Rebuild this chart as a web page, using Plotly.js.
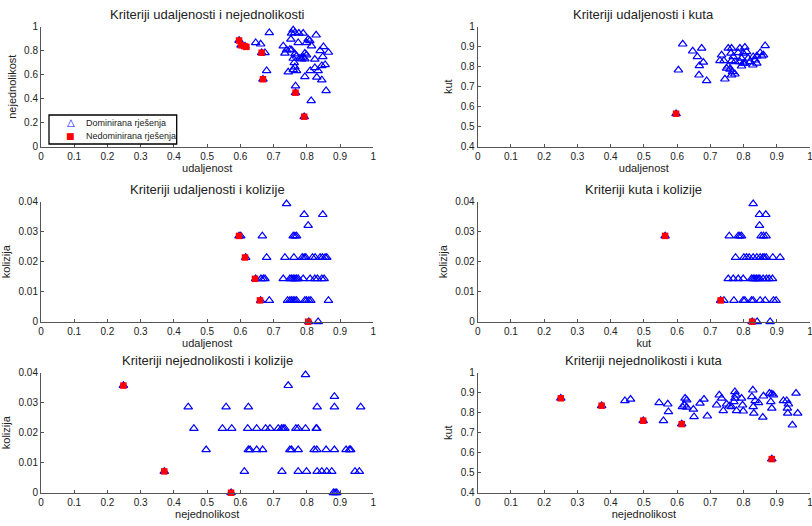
<!DOCTYPE html>
<html>
<head>
<meta charset="utf-8">
<script src="https://cdn.plot.ly/plotly-3.0.1.min.js"></script>
<style>html,body{margin:0;padding:0;background:#fff;}#chart{width:812px;height:526px;}</style>
</head>
<body>
<div id="chart"></div>
<script>
// ---- Labels ----
const subplotTitles = [
  "Kriteriji udaljenosti i nejednolikosti",
  "Kriteriji udaljenosti i kuta",
  "Kriteriji udaljenosti i kolizije",
  "Kriteriji kuta i kolizije",
  "Kriteriji nejednolikosti i kolizije",
  "Kriteriji nejednolikosti i kuta"
];
const xTitles = ["udaljenost", "udaljenost", "udaljenost", "kut", "nejednolikost", "nejednolikost"];
const yTitles = ["nejednolikost", "kut", "kolizija", "kolizija", "kolizija", "kut"];
const legendNames = ["Dominirana rješenja", "Nedominirana rješenja"];
const yRanges = [[0, 1], [0.4, 1], [0, 0.04], [0, 0.04], [0, 0.04], [0.4, 1]];
const yDticks = [0.2, 0.1, 0.01, 0.01, 0.01, 0.1];

// ---- 1: udaljenost vs nejednolikost ----
const udNejDomX = [0.687,0.646,0.661,0.759,0.764,0.754,0.776,0.789,0.828,0.752,0.774,0.804,0.809,0.799,0.814,0.729,0.739,0.734,0.754,0.764,0.769,0.759,0.794,0.799,0.789,0.784,0.794,0.824,0.840,0.850,0.848,0.865,0.855,0.845,0.824,0.834,0.830,0.845,0.810,0.794,0.762,0.764,0.759,0.744,0.769,0.679,0.766,0.858,0.813,0.779,0.749,0.674,0.596,0.602,0.614,0.664,0.668,0.766,0.792];
const udNejDomY = [0.950,0.867,0.855,0.972,0.950,0.945,0.945,0.945,0.930,0.895,0.867,0.895,0.883,0.867,0.840,0.840,0.806,0.778,0.806,0.772,0.755,0.736,0.778,0.764,0.745,0.731,0.731,0.728,0.800,0.833,0.750,0.786,0.683,0.675,0.658,0.633,0.578,0.556,0.633,0.583,0.700,0.664,0.642,0.622,0.633,0.633,0.506,0.467,0.383,0.736,0.811,0.783,0.885,0.845,0.838,0.783,0.562,0.450,0.250];
const udNejNdX = [0.596,0.602,0.612,0.618,0.664,0.668,0.766,0.792];
const udNejNdY = [0.885,0.845,0.838,0.832,0.783,0.562,0.450,0.250];

// ---- 2: udaljenost vs kut ----
const udKutDomX = [0.617,0.647,0.674,0.661,0.679,0.667,0.604,0.666,0.689,0.744,0.754,0.764,0.789,0.804,0.865,0.734,0.729,0.741,0.762,0.769,0.784,0.799,0.809,0.794,0.814,0.829,0.840,0.850,0.855,0.860,0.835,0.820,0.804,0.789,0.774,0.764,0.754,0.759,0.767,0.774,0.764,0.794,0.799,0.828,0.840,0.749,0.597];
const udKutDomY = [0.913,0.878,0.892,0.850,0.822,0.805,0.783,0.758,0.730,0.738,0.892,0.892,0.892,0.897,0.905,0.858,0.830,0.830,0.867,0.850,0.870,0.867,0.875,0.842,0.842,0.850,0.853,0.870,0.853,0.858,0.833,0.825,0.817,0.825,0.825,0.830,0.803,0.787,0.775,0.763,0.758,0.803,0.817,0.808,0.817,0.792,0.565];
const udKutNdX = [0.597];
const udKutNdY = [0.565];

// ---- 3: udaljenost vs kolizija ----
const udKolDomX = [0.739,0.792,0.848,0.804,0.596,0.601,0.666,0.759,0.764,0.769,0.616,0.679,0.734,0.761,0.786,0.792,0.797,0.817,0.825,0.840,0.847,0.855,0.860,0.646,0.662,0.669,0.674,0.729,0.749,0.754,0.759,0.764,0.769,0.774,0.789,0.810,0.824,0.832,0.845,0.852,0.661,0.687,0.742,0.749,0.754,0.759,0.764,0.769,0.794,0.799,0.806,0.812,0.865,0.806,0.834];
const udKolDomY = [0.0393,0.0357,0.0357,0.0321,0.0286,0.0286,0.0286,0.0286,0.0286,0.0286,0.0214,0.0214,0.0214,0.0214,0.0214,0.0214,0.0214,0.0214,0.0214,0.0214,0.0214,0.0214,0.0214,0.0143,0.0143,0.0143,0.0143,0.0143,0.0143,0.0143,0.0143,0.0143,0.0143,0.0143,0.0143,0.0143,0.0143,0.0143,0.0143,0.0143,0.0071,0.0071,0.0071,0.0071,0.0071,0.0071,0.0071,0.0071,0.0071,0.0071,0.0071,0.0071,0.0071,0,0];
const udKolNdX = [0.596,0.614,0.644,0.659,0.804];
const udKolNdY = [0.0286,0.0214,0.0143,0.0071,0];

// ---- 4: kut vs kolizija ----
const kutKolDomX = [0.829,0.848,0.867,0.848,0.564,0.757,0.784,0.789,0.794,0.853,0.860,0.868,0.776,0.801,0.809,0.817,0.829,0.840,0.850,0.858,0.862,0.868,0.888,0.910,0.754,0.769,0.784,0.799,0.824,0.829,0.834,0.839,0.844,0.849,0.859,0.869,0.877,0.887,0.731,0.741,0.771,0.799,0.804,0.824,0.829,0.850,0.865,0.890,0.898,0.826,0.841,0.880];
const kutKolDomY = [0.0393,0.0357,0.0357,0.0321,0.0286,0.0286,0.0286,0.0286,0.0286,0.0286,0.0286,0.0286,0.0214,0.0214,0.0214,0.0214,0.0214,0.0214,0.0214,0.0214,0.0214,0.0214,0.0214,0.0214,0.0143,0.0143,0.0143,0.0143,0.0143,0.0143,0.0143,0.0143,0.0143,0.0143,0.0143,0.0143,0.0143,0.0143,0.0071,0.0071,0.0071,0.0071,0.0071,0.0071,0.0071,0.0071,0.0071,0.0071,0.0071,0,0,0];
const kutKolNdX = [0.564,0.731,0.826];
const kutKolNdY = [0.0286,0.0071,0];

// ---- 5: nejednolikost vs kolizija ----
const nejKolDomX = [0.796,0.248,0.744,0.883,0.443,0.557,0.624,0.831,0.883,0.962,0.460,0.546,0.574,0.622,0.649,0.676,0.689,0.714,0.724,0.729,0.734,0.767,0.774,0.796,0.828,0.830,0.497,0.624,0.629,0.649,0.667,0.749,0.754,0.774,0.822,0.830,0.858,0.883,0.918,0.928,0.932,0.371,0.612,0.725,0.774,0.799,0.831,0.845,0.860,0.875,0.945,0.958,0.572,0.880,0.885,0.890];
const nejKolDomY = [0.0393,0.0357,0.0357,0.0321,0.0286,0.0286,0.0286,0.0286,0.0286,0.0286,0.0214,0.0214,0.0214,0.0214,0.0214,0.0214,0.0214,0.0214,0.0214,0.0214,0.0214,0.0214,0.0214,0.0214,0.0214,0.0214,0.0143,0.0143,0.0143,0.0143,0.0143,0.0143,0.0143,0.0143,0.0143,0.0143,0.0143,0.0143,0.0143,0.0143,0.0143,0.0071,0.0071,0.0071,0.0071,0.0071,0.0071,0.0071,0.0071,0.0071,0.0071,0.0071,0,0,0,0];
const nejKolNdX = [0.248,0.371,0.572];
const nejKolNdY = [0.0357,0.0071,0];

// ---- 6: nejednolikost vs kut ----
const nejKutDomX = [0.443,0.460,0.546,0.572,0.574,0.559,0.624,0.629,0.622,0.629,0.616,0.649,0.651,0.669,0.681,0.691,0.719,0.727,0.734,0.739,0.749,0.757,0.764,0.774,0.777,0.774,0.771,0.794,0.797,0.799,0.779,0.828,0.825,0.835,0.829,0.831,0.845,0.860,0.858,0.878,0.885,0.890,0.882,0.885,0.920,0.930,0.935,0.932,0.933,0.958,0.963,0.947,0.250,0.373,0.498,0.614,0.885];
const nejKutDomY = [0.860,0.867,0.850,0.843,0.805,0.760,0.872,0.864,0.838,0.827,0.830,0.817,0.780,0.847,0.867,0.783,0.838,0.888,0.872,0.810,0.843,0.833,0.830,0.905,0.888,0.872,0.855,0.872,0.838,0.808,0.810,0.913,0.880,0.860,0.830,0.797,0.850,0.883,0.777,0.897,0.893,0.888,0.855,0.822,0.860,0.860,0.843,0.822,0.797,0.897,0.797,0.738,0.872,0.835,0.760,0.743,0.568];
const nejKutNdX = [0.250,0.373,0.498,0.614,0.885];
const nejKutNdY = [0.872,0.835,0.760,0.743,0.568];

const domSets = [[udNejDomX,udNejDomY],[udKutDomX,udKutDomY],[udKolDomX,udKolDomY],[kutKolDomX,kutKolDomY],[nejKolDomX,nejKolDomY],[nejKutDomX,nejKutDomY]];
const ndSets = [[udNejNdX,udNejNdY],[udKutNdX,udKutNdY],[udKolNdX,udKolNdY],[kutKolNdX,kutKolNdY],[nejKolNdX,nejKolNdY],[nejKutNdX,nejKutNdY]];

// ---- Layout geometry (pixels -> paper) ----
const W = 812, H = 526;
const colPx = [[41, 373.3], [477.7, 810]];
const rowPx = [[26.7, 146.7], [201.7, 321.7], [372.7, 492.7]];
const titleYPx = [14, 189, 360];
const FONT = "Liberation Sans, Arial, Helvetica, sans-serif";
const px = v => v / W, py = v => 1 - v / H;

const traces = [];
const layout = {
  width: W, height: H,
  margin: {l: 0, r: 0, t: 0, b: 0, pad: 0},
  paper_bgcolor: "#fff", plot_bgcolor: "#fff",
  font: {family: FONT, color: "#222"},
  showlegend: false,
  annotations: [],
  shapes: []
};

for (let i = 0; i < 6; i++) {
  const col = i % 2, row = Math.floor(i / 2);
  const sfx = i === 0 ? "" : String(i + 1);
  const xa = "x" + sfx, ya = "y" + sfx;
  traces.push({
    type: "scatter", mode: "markers", x: domSets[i][0], y: domSets[i][1],
    xaxis: xa, yaxis: ya, name: legendNames[0], cliponaxis: false,
    marker: {symbol: "triangle-up-open", size: 7.5, color: "#0000ff", line: {color: "#0000ff", width: 1.2}}
  });
  traces.push({
    type: "scatter", mode: "markers", x: ndSets[i][0], y: ndSets[i][1],
    xaxis: xa, yaxis: ya, name: legendNames[1], cliponaxis: false,
    marker: {symbol: "square", size: 6.5, color: "#ff0000", line: {width: 0}}
  });
  const xd = [px(colPx[col][0]), px(colPx[col][1])];
  const yd = [py(rowPx[row][1]), py(rowPx[row][0])];
  const axBase = {
    showgrid: false, zeroline: false, showline: true, linecolor: "#555", linewidth: 1,
    ticks: "inside", ticklen: 3, tickwidth: 1, tickcolor: "#555",
    tickfont: {family: FONT, size: 10, color: "#222"}, automargin: false, fixedrange: true,
    ticklabeloverflow: "allow"
  };
  layout["xaxis" + sfx] = Object.assign({}, axBase, {
    domain: xd, range: [0, 1], tick0: 0, dtick: 0.1, anchor: ya,
    title: {text: xTitles[i], font: {family: FONT, size: 11, color: "#222"}, standoff: 3}
  });
  layout["yaxis" + sfx] = Object.assign({}, axBase, {
    domain: yd, range: yRanges[i], tick0: 0, dtick: yDticks[i], anchor: xa,
    title: {text: yTitles[i], font: {family: FONT, size: 11, color: "#222"}, standoff: 5}
  });
  layout.annotations.push({
    text: subplotTitles[i], xref: "paper", yref: "paper",
    x: (xd[0] + xd[1]) / 2, y: py(titleYPx[row]), xanchor: "center", yanchor: "middle",
    showarrow: false, font: {family: FONT, size: 13, color: "#222"}
  });
}

// ---- Legend box (drawn in the first subplot, as in the original) ----
layout.shapes.push({
  type: "rect", xref: "paper", yref: "paper",
  x0: px(49), x1: px(176.7), y0: py(144), y1: py(115),
  line: {color: "#000", width: 1.3}, fillcolor: "#fff", layer: "above"
});
const legendRowsPx = [122.7, 136];
const legendSymbols = ["△", "■"];
const legendColors = ["#0000ff", "#ff0000"];
for (let k = 0; k < 2; k++) {
  layout.annotations.push({
    text: legendSymbols[k], xref: "paper", yref: "paper",
    x: px(70.7), y: py(legendRowsPx[k]), xanchor: "center", yanchor: "middle",
    showarrow: false, font: {family: "DejaVu Sans, sans-serif", size: k === 0 ? 10 : 9, color: legendColors[k]}
  });
  layout.annotations.push({
    text: legendNames[k], xref: "paper", yref: "paper",
    x: px(84), y: py(legendRowsPx[k]), xanchor: "left", yanchor: "middle",
    showarrow: false, font: {family: FONT, size: 9, color: "#222"}
  });
}

Plotly.newPlot("chart", traces, layout, {displayModeBar: false, staticPlot: true});
</script>
</body>
</html>
